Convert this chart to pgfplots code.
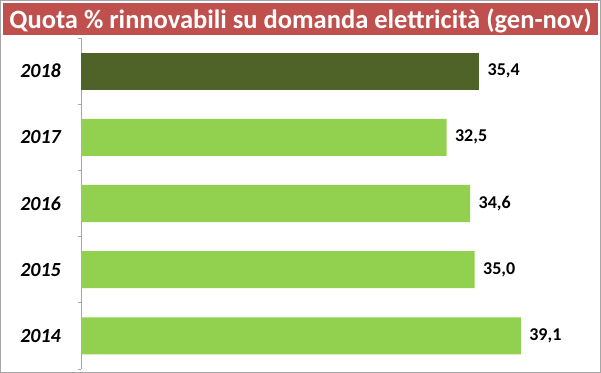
\documentclass[border=0pt]{standalone}
\usepackage{pgfplots}
\pgfplotsset{compat=1.18}
\usepackage{fontspec}
\setmainfont{Carlito}
\definecolor{titlered}{HTML}{C0504D}
\definecolor{lightgreen}{HTML}{92D050}
\definecolor{darkgreen}{HTML}{4F6228}
\begin{document}
\begin{tikzpicture}
\useasboundingbox (0,0) rectangle (601bp,373bp);
\draw[gray!70, line width=1bp] (0.5bp,0.5bp) rectangle (600.5bp,372.5bp);
\fill[titlered] (3bp,338bp) rectangle (598bp,370bp);
\node[text=white, font=\bfseries\fontsize{26.5bp}{28bp}\selectfont, inner sep=0pt] at (300.5bp,352.5bp) {Quota \% rinnovabili su domanda elettricità (gen-nov)};
\begin{axis}[
  at={(81bp,4bp)}, anchor=south west,
  scale only axis, width=516bp, height=331bp,
  xmin=0, xmax=45.87, ymin=-0.5, ymax=4.5,
  xbar, bar width=37bp, bar shift=0pt,
  axis x line=none,
  axis y line*=left,
  y axis line style={gray!70, line width=0.8bp},
  ytick={0,1,2,3,4},
  yticklabels={2014,2015,2016,2017,2018},
  major tick length=0pt,
  minor ytick={-0.5,0.5,1.5,2.5,3.5,4.5},
  minor tick length=3bp,
  tick align=outside,
  minor tick style={gray!70, line width=0.8bp},
  yticklabel style={font=\bfseries\itshape\fontsize{20bp}{22bp}\selectfont, inner sep=0pt, anchor=east, xshift=-20bp},
  nodes near coords,
  nodes near coords style={anchor=west, xshift=5bp, font=\bfseries\fontsize{18bp}{20bp}\selectfont, black,
    /pgf/number format/.cd, assume math mode=true, use comma, fixed, fixed zerofill, precision=1},
  clip=false,
]
\addplot[fill=lightgreen, draw=none] coordinates {(39.1,0) (35.0,1) (34.6,2) (32.5,3)};
\addplot[fill=darkgreen, draw=none] coordinates {(35.4,4)};
\end{axis}
\end{tikzpicture}
\end{document}
